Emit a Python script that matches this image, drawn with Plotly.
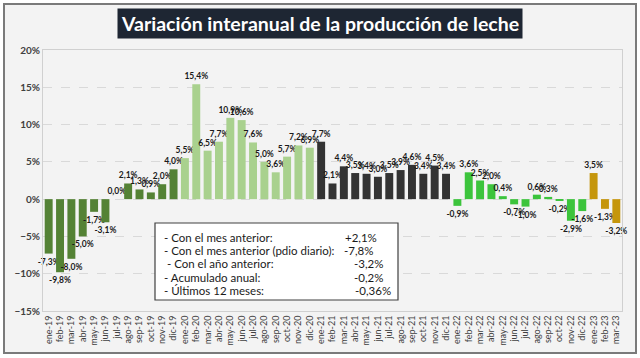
import plotly.graph_objects as go

months = ["ene", "feb", "mar", "abr", "may", "jun", "jul", "ago", "sep", "oct", "nov", "dic"]
categories = [f"{m}-{y}" for y in ["19", "20", "21", "22"] for m in months] + ["ene-23", "feb-23", "mar-23"]

values_2019 = [-7.3, -9.8, -8.0, -5.0, -1.7, -3.1, 0.0, 2.1, 1.3, 0.9, 2.0, 4.0]
values_2020 = [5.5, 15.4, 6.5, 7.7, 10.9, 10.6, 7.6, 5.0, 3.6, 5.7, 7.2, 6.9]
values_2021 = [7.7, 2.1, 4.4, 3.5, 3.4, 3.0, 3.5, 3.9, 4.6, 3.4, 4.5, 3.4]
values_2022 = [-0.9, 3.6, 2.5, 2.0, 0.4, -0.7, -1.0, 0.6, 0.3, -0.2, -2.9, -1.6]
values_2023 = [3.5, -1.3, -3.2]

year_colors = ["#548235", "#a9d18e", "#333333", "#3cc43c", "#c5960c"]
series = [values_2019, values_2020, values_2021, values_2022, values_2023]

box_labels = ["- Con el mes anterior:", "- Con el mes anterior (pdio diario):", "&nbsp;- Con el año anterior:",
              "- Acumulado anual:", "- Últimos 12 meses:"]
box_values = ["+2,1%", "-7,8%", "-3,2%", "-0,2%", "-0,36%"]

def fmt(v):
    return f"{v:.1f}".replace(".", ",") + "%"

L, R, T, B = 43, 622, 50, 311
W, H = R - L, B - T
def px(x):
    return (x - L) / W
def py(y):
    return (B - y) / H

fig = go.Figure()
start = 0
for vals, col in zip(series, year_colors):
    cats = categories[start:start + len(vals)]
    start += len(vals)
    fig.add_trace(go.Bar(
        x=cats, y=vals, marker=dict(color=col, line=dict(width=0)),
        text=[fmt(v) for v in vals], textposition="outside", constraintext="none",
        textfont=dict(family="Lato", size=8.5, color="#1a1a1a", weight="bold"),
        cliponaxis=False, showlegend=False,
    ))

fig.update_layout(
    width=640, height=358,
    margin=dict(l=L, r=640 - R, t=T, b=358 - B),
    paper_bgcolor="white", plot_bgcolor="white",
    bargap=0.3,
    font=dict(family="Lato", color="#404040"),
    xaxis=dict(type="category", categoryorder="array", categoryarray=categories,
               tickangle=-90, tickfont=dict(size=9, color="#404040"),
               showline=True, mirror=True, linecolor="#d0d0d0", linewidth=1,
               showgrid=False, ticks="", automargin=False),
    yaxis=dict(range=[-15, 20], dtick=5, ticksuffix="%",
               tickfont=dict(size=10, color="#404040", weight="bold"),
               showline=True, mirror=True, linecolor="#d0d0d0", linewidth=1,
               showgrid=True, gridcolor="#d9d9d9", griddash="dash", gridwidth=1,
               zeroline=False, ticks="", automargin=False),
)

# outer frame (background fill below, border above)
fig.add_shape(type="rect", xref="paper", yref="paper",
              x0=px(4), x1=px(636), y0=py(353), y1=py(4),
              fillcolor="#f3f3f3", line=dict(width=0), layer="below")
fig.add_shape(type="rect", xref="paper", yref="paper",
              x0=px(4), x1=px(636), y0=py(353), y1=py(4),
              fillcolor="rgba(0,0,0,0)", line=dict(color="#7a7a7a", width=2), layer="above")

# title
fig.add_annotation(x=px(320), xref="paper", y=py(23), yref="paper",
                   xanchor="center", yanchor="middle", showarrow=False,
                   text="Variación interanual de la producción de leche",
                   font=dict(family="Lato", size=19.5, color="white", weight="bold"),
                   bgcolor="#1e2633", borderpad=3)

# info box
fig.add_shape(type="rect", xref="paper", yref="paper",
              x0=px(155), x1=px(398), y0=py(300), y1=py(223),
              fillcolor="white", line=dict(color="#404040", width=1.2), layer="above")
line_y = [237, 250, 263, 277, 290]
val_x = [343, 342, 352, 352, 353]
for lab, val, ly, vx in zip(box_labels, box_values, line_y, val_x):
    fig.add_annotation(x=px(162), xref="paper", y=py(ly), yref="paper",
                       xanchor="left", yanchor="middle", showarrow=False, text=lab,
                       font=dict(family="Lato", size=11.5, color="#1a1a1a"))
    fig.add_annotation(x=px(vx), xref="paper", y=py(ly), yref="paper",
                       xanchor="left", yanchor="middle", showarrow=False, text=val,
                       font=dict(family="Lato", size=11.5, color="#1a1a1a"))

fig.write_html("out.html", post_script="document.body.style.margin='0';",
               config={"displayModeBar": False})
